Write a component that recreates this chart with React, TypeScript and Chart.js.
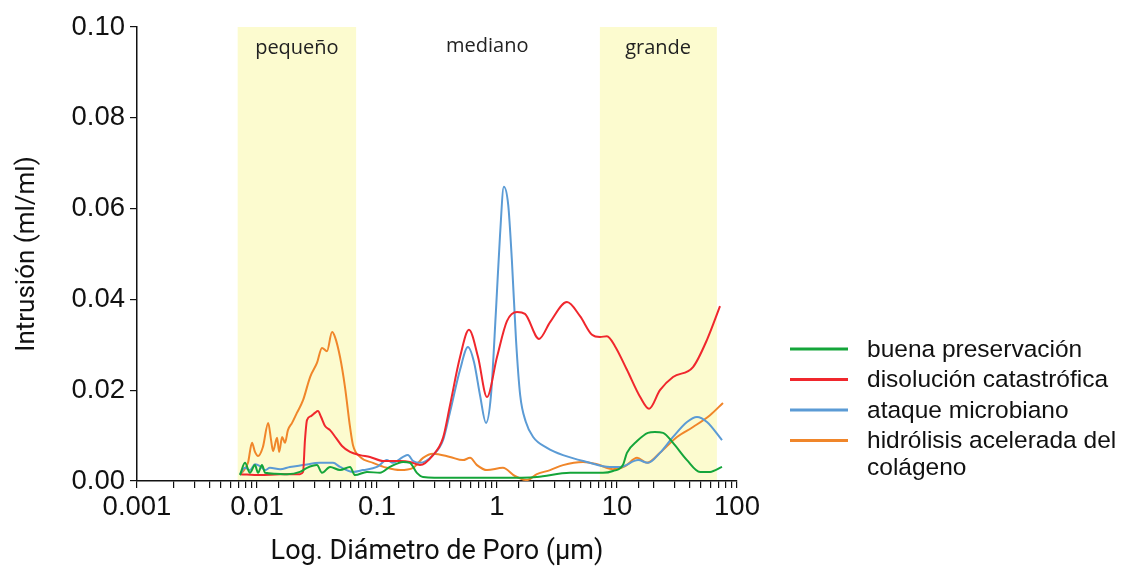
import React, { useEffect, useRef } from 'react';
import { Chart, registerables } from 'chart.js';

Chart.register(...registerables);

// ---- Data (diameter in µm, intrusion in ml/ml) ----
const seriesNames = [
  'buena preservación',
  'disolución catastrófica',
  'ataque microbiano',
  'hidrólisis acelerada del colágeno',
];
const legendLines = [
  ['buena preservación'],
  ['disolución catastrófica'],
  ['ataque microbiano'],
  ['hidrólisis acelerada del', 'colágeno'],
];
const seriesColors = ['#14a53a', '#f0272d', '#5b9bd5', '#f0862a'];

const buenaDiam = [0.00722, 0.00794, 0.00874, 0.00962, 0.0102, 0.011, 0.0117, 0.0141, 0.0178, 0.0228, 0.0261, 0.0316, 0.0348, 0.0406, 0.0492, 0.0596, 0.0656, 0.0825, 0.106, 0.128, 0.165, 0.188, 0.215, 0.242, 0.406, 1.06, 2.15, 4.06, 7.64, 9.26, 11.2, 12.1, 14.7, 18.1, 20.7, 24.2, 29.3, 38.3, 49.2, 59.6, 75.0];
const buenaIntr = [0.0013, 0.004, 0.0018, 0.0035, 0.0018, 0.0035, 0.0018, 0.0016, 0.0015, 0.002, 0.0029, 0.0035, 0.0018, 0.0031, 0.0024, 0.0031, 0.0013, 0.002, 0.0018, 0.0031, 0.0042, 0.004, 0.0018, 0.0009, 0.0007, 0.0007, 0.0009, 0.0018, 0.0018, 0.0022, 0.0035, 0.0062, 0.0088, 0.0106, 0.0108, 0.0106, 0.0084, 0.0046, 0.002, 0.002, 0.0031];

const disolDiam = [0.00722, 0.0106, 0.0156, 0.0228, 0.0242, 0.0251, 0.0261, 0.0282, 0.0304, 0.0322, 0.0342, 0.0369, 0.0406, 0.0455, 0.0511, 0.0596, 0.0722, 0.0874, 0.112, 0.156, 0.188, 0.228, 0.293, 0.355, 0.406, 0.492, 0.584, 0.695, 0.825, 1.0, 1.21, 1.47, 1.71, 2.24, 2.77, 3.83, 4.92, 6.19, 7.22, 8.25, 9.62, 12.1, 15.6, 18.5, 22.8, 29.3, 43.0, 56.2, 72.2];
const disolIntr = [0.0015, 0.0013, 0.0015, 0.0015, 0.002, 0.009, 0.0134, 0.0143, 0.015, 0.0154, 0.0141, 0.0121, 0.0112, 0.0095, 0.0077, 0.0064, 0.0057, 0.0053, 0.0044, 0.0044, 0.0042, 0.0035, 0.0057, 0.0095, 0.0167, 0.0273, 0.0333, 0.0273, 0.0185, 0.0273, 0.0352, 0.0372, 0.0368, 0.0313, 0.035, 0.0394, 0.0363, 0.0322, 0.0317, 0.0319, 0.0297, 0.0245, 0.0185, 0.0159, 0.02, 0.0229, 0.0251, 0.0311, 0.0385];

const ataqDiam = [0.00722, 0.00794, 0.00874, 0.00962, 0.0106, 0.0117, 0.0128, 0.0156, 0.0188, 0.0242, 0.0335, 0.043, 0.0492, 0.0631, 0.0764, 0.1, 0.121, 0.136, 0.165, 0.181, 0.2, 0.228, 0.293, 0.355, 0.406, 0.492, 0.573, 0.643, 0.722, 0.81, 0.891, 0.981, 1.06, 1.14, 1.24, 1.33, 1.44, 1.56, 1.74, 2.0, 2.61, 3.55, 5.62, 8.74, 10.6, 15.0, 18.1, 22.8, 29.3, 38.3, 46.4, 56.2, 75.0];
const ataqIntr = [0.0015, 0.0029, 0.0024, 0.0037, 0.0033, 0.0024, 0.0029, 0.0026, 0.0031, 0.0035, 0.004, 0.004, 0.0031, 0.002, 0.0024, 0.0031, 0.0046, 0.004, 0.0053, 0.0057, 0.0044, 0.004, 0.0057, 0.009, 0.0152, 0.0245, 0.0295, 0.0262, 0.0189, 0.0128, 0.0189, 0.0377, 0.0542, 0.0648, 0.0608, 0.0487, 0.0311, 0.0189, 0.013, 0.0097, 0.0073, 0.0057, 0.0042, 0.0031, 0.0031, 0.0046, 0.004, 0.0062, 0.0097, 0.013, 0.0141, 0.013, 0.009];

const hidrDiam = [0.00722, 0.00779, 0.00841, 0.00909, 0.00962, 0.0102, 0.0112, 0.0124, 0.0131, 0.0136, 0.0147, 0.0153, 0.0162, 0.0171, 0.0181, 0.0196, 0.0215, 0.0242, 0.0277, 0.0316, 0.0348, 0.0383, 0.0422, 0.0447, 0.0492, 0.0541, 0.0596, 0.0631, 0.0722, 0.0926, 0.121, 0.156, 0.2, 0.242, 0.293, 0.406, 0.521, 0.596, 0.681, 0.825, 1.12, 1.41, 1.78, 2.15, 2.77, 3.55, 5.21, 6.81, 9.26, 11.7, 14.7, 17.8, 22.8, 31.6, 43.0, 59.6, 76.4];
const hidrIntr = [0.0015, 0.0024, 0.004, 0.0084, 0.0064, 0.0055, 0.0075, 0.0128, 0.009, 0.0066, 0.0095, 0.0064, 0.0097, 0.0084, 0.0112, 0.0128, 0.015, 0.0178, 0.0229, 0.026, 0.0293, 0.0286, 0.0328, 0.0317, 0.0273, 0.0207, 0.0119, 0.0079, 0.0053, 0.004, 0.0029, 0.0024, 0.0029, 0.0051, 0.006, 0.0053, 0.0046, 0.0051, 0.0035, 0.0024, 0.0029, 0.0011, 0.0002, 0.0015, 0.0024, 0.0035, 0.0042, 0.0037, 0.0026, 0.0033, 0.0051, 0.004, 0.0062, 0.0097, 0.0119, 0.0145, 0.0172];

// Pore-size regions
const regionNames = ['pequeño', 'mediano', 'grande'];
const regionFrom = [0.0069, 0.067, 7.2];
const regionTo = [0.067, 7.2, 68];
const regionShaded = [true, false, true];
const regionLabelAt = [0.0215, 0.83, 22];

// Axis ticks and titles
const xTickValues = [0.001, 0.01, 0.1, 1, 10, 100];
const xTickLabels = ['0.001', '0.01', '0.1', '1', '10', '100'];
const yTickStep = 0.02;
const xTitle = 'Log. Diámetro de Poro (µm)';
const yTitle = 'Intrusión (ml/ml)';

const SHADE = '#fcfbcf';
const TICK_FONT = '"Liberation Sans", Arial, sans-serif';
const TITLE_FONT = 'Roboto, "Noto Sans", sans-serif';

const toPoints = (xs: number[], ys: number[]) => xs.map((x, i) => ({ x, y: ys[i] }));

const regionPlugin = {
  id: 'regions',
  beforeDraw(chart: any) {
    const { ctx, chartArea, scales } = chart;
    const x = scales.x;
    ctx.save();
    regionNames.forEach((name, i) => {
      const x1 = x.getPixelForValue(regionFrom[i]);
      const x2 = x.getPixelForValue(regionTo[i]);
      if (regionShaded[i]) {
        ctx.fillStyle = SHADE;
        ctx.fillRect(x1, chartArea.top, x2 - x1, chartArea.bottom - chartArea.top);
      }
    });
    ctx.fillStyle = '#222';
    ctx.font = '20px "Open Sans", sans-serif';
    ctx.textAlign = 'center';
    ctx.textBaseline = 'middle';
    regionNames.forEach((name, i) => {
      ctx.fillText(name, x.getPixelForValue(regionLabelAt[i]), chartArea.top + (regionShaded[i] ? 21 : 19));
    });
    ctx.restore();
  },
};

const legendPlugin = {
  id: 'sideLegend',
  afterDraw(chart: any) {
    const { ctx, chartArea } = chart;
    const x0 = chartArea.right + 53;
    let y = chartArea.bottom - 132;
    ctx.save();
    ctx.font = '24.5px ' + TICK_FONT;
    ctx.textBaseline = 'middle';
    ctx.textAlign = 'left';
    chart.data.datasets.forEach((ds: any, i: number) => {
      ctx.strokeStyle = ds.borderColor;
      ctx.lineWidth = 3;
      ctx.beginPath();
      ctx.moveTo(x0, y);
      ctx.lineTo(x0 + 58, y);
      ctx.stroke();
      ctx.fillStyle = '#111';
      legendLines[i].forEach((ln, j) => ctx.fillText(ln, x0 + 77, y + 1 + j * 27));
      y += 30.5;
    });
    ctx.restore();
  },
};

export default function App() {
  const ref = useRef<HTMLCanvasElement | null>(null);

  useEffect(() => {
    if (!ref.current) return;
    const xs = [buenaDiam, disolDiam, ataqDiam, hidrDiam];
    const ys = [buenaIntr, disolIntr, ataqIntr, hidrIntr];
    const chart = new Chart(ref.current, {
      type: 'line',
      data: {
        datasets: seriesNames.map((name, i) => ({
          label: name,
          data: toPoints(xs[i], ys[i]),
          borderColor: seriesColors[i],
          backgroundColor: seriesColors[i],
          borderWidth: 2,
          pointRadius: 0,
          fill: false,
          cubicInterpolationMode: 'monotone' as const,
        })),
      },
      options: {
        animation: false,
        responsive: false,
        events: [],
        layout: { padding: { left: 0, top: 27, right: 384, bottom: 0 } },
        plugins: {
          legend: { display: false },
          tooltip: { enabled: false },
        },
        scales: {
          x: {
            type: 'logarithmic',
            min: 0.001,
            max: 100,
            border: { display: true, color: '#111', width: 1.5 },
            grid: { display: true, drawOnChartArea: false, drawTicks: true, tickLength: 7, color: '#111', lineWidth: 1.2 },
            ticks: {
              autoSkip: false,
              maxRotation: 0,
              minRotation: 0,
              padding: 3,
              color: '#111',
              font: { family: TICK_FONT, size: 27.5 },
              callback: (value: any) => {
                const v = Number(value);
                const k = xTickValues.findIndex((d) => Math.abs(v / d - 1) < 1e-6);
                return k >= 0 ? xTickLabels[k] : '';
              },
            },
            title: {
              display: true,
              text: xTitle,
              color: '#111',
              font: { family: TITLE_FONT, size: 27 },
              padding: { top: 0, bottom: 6 },
            },
            afterFit: (s: any) => {
              s.height = 93;
            },
          },
          y: {
            type: 'linear',
            min: 0,
            max: 0.1,
            border: { display: true, color: '#111', width: 1.5 },
            grid: { display: true, drawOnChartArea: false, drawTicks: true, tickLength: 7, color: '#111', lineWidth: 1.2 },
            ticks: {
              stepSize: yTickStep,
              padding: 5,
              color: '#111',
              font: { family: TICK_FONT, size: 27.5 },
              callback: (value: any) => Number(value).toFixed(2),
            },
            title: {
              display: true,
              text: yTitle,
              color: '#111',
              font: { family: TITLE_FONT, size: 26 },
              padding: { top: 12, bottom: 0 },
            },
            afterFit: (s: any) => {
              s.width = 137;
            },
          },
        },
      },
      plugins: [regionPlugin, legendPlugin],
    } as any);
    return () => chart.destroy();
  }, []);

  return (
    <div style={{ position: 'fixed', left: 0, top: 0, width: 1121, height: 574, background: '#fff' }}>
      <canvas ref={ref} width={1121} height={574} style={{ display: 'block' }} />
    </div>
  );
}
